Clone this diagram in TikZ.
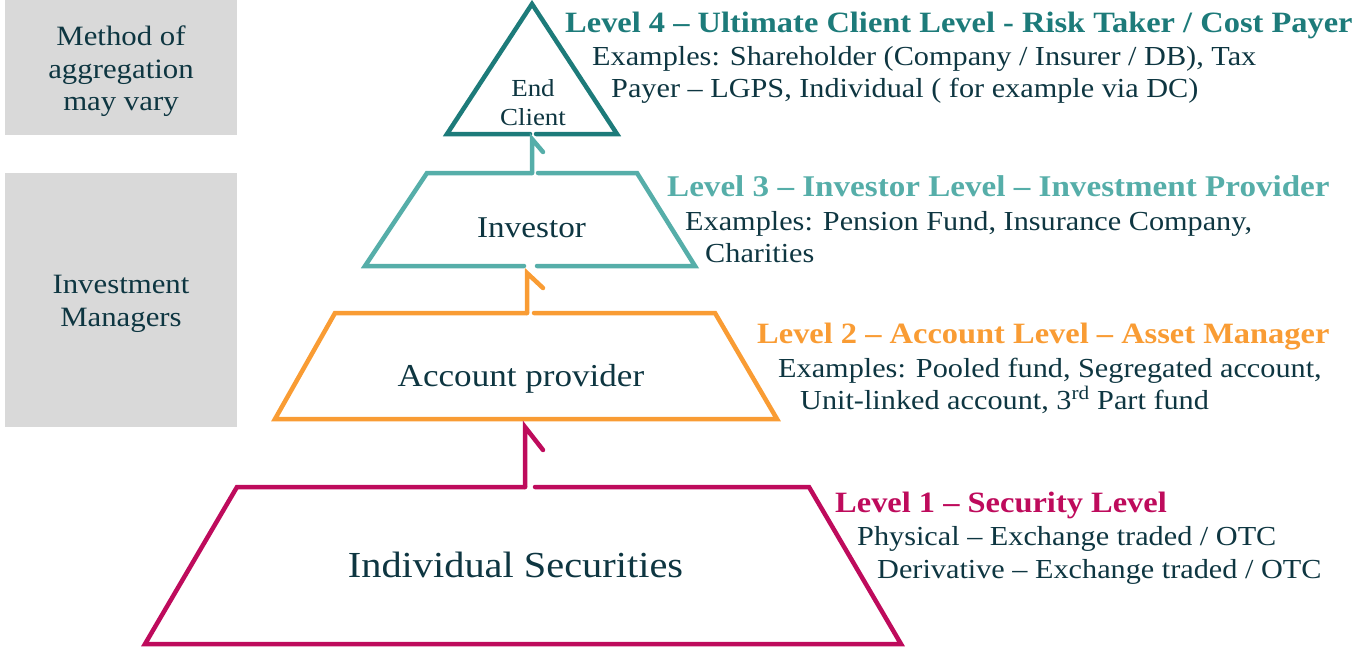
\documentclass[tikz,border=0pt]{standalone}
\usepackage{fontspec}
\setmainfont{Liberation Serif}[FakeStretch=1.1]
\definecolor{lvfour}{HTML}{1D7B7A}
\definecolor{lvthree}{HTML}{56AEA9}
\definecolor{lvtwo}{HTML}{F99C34}
\definecolor{lvone}{HTML}{BE0B5C}
\definecolor{ink}{HTML}{0E3641}
\definecolor{panel}{HTML}{D9D9D9}
\begin{document}
\begin{tikzpicture}[x=1pt,y=-1pt,
  outline/.style={line width=4.5pt, line cap=round, line join=miter},
  conn/.style={line width=4.5pt, line cap=round, line join=miter},
  body/.style={anchor=base west, inner sep=0pt, text=ink, font=\fontsize{27.5}{33}\selectfont},
  headline/.style={anchor=base west, inner sep=0pt, font=\fontsize{29.5}{35}\bfseries\selectfont},
  sidetext/.style={anchor=base, inner sep=0pt, text=ink, font=\fontsize{28}{33}\selectfont},
  label/.style={anchor=base, inner sep=0pt, text=ink}]
\useasboundingbox (0,0) rectangle (1360,653);

% side panels
\fill[panel] (5,0) rectangle (237,135);
\fill[panel] (5,173) rectangle (237,427);
\node[sidetext] (m1) at (121,45) {Method of};
\node[sidetext] (m2) at (121,78) {aggregation};
\node[sidetext] (m3) at (121,110) {may vary};
\node[sidetext] (im1) at (121,293) {Investment};
\node[sidetext] (im2) at (121,326) {Managers};

% connector end points
\coordinate (t4-tip) at (532,139);
\coordinate (t3-top) at (532,173);
\coordinate (t3-tip) at (527,273);
\coordinate (t2-top) at (527,313);
\coordinate (t2-tip) at (525,427);
\coordinate (t1-top) at (525,487);

% Level 4: triangle
\draw[outline, lvfour] (530,134) -- (447,134) -- (532,4) -- (617,134) -- (536,134);
\node[label, font=\fontsize{24.5}{29}\selectfont] (end) at (533,96) {End};
\node[label, font=\fontsize{24.5}{29}\selectfont] (client) at (533,125) {Client};

% Level 3: investor trapezoid
\draw[outline, lvthree] (538,173) -- (637,173) -- (695,266) -- (537,266);
\draw[outline, lvthree] (524,266) -- (365,266) -- (427,173) -- (t3-top);
\draw[conn, lvthree] (t3-top) -- (t4-tip) -- ++(11,13);
\node[label, font=\fontsize{30.2}{36}\selectfont] (inv) at (531.5,237) {Investor};

% Level 2: account provider trapezoid
\draw[outline, lvtwo] (534,313) -- (715,313) -- (777,419) -- (275,419) -- (335,313) -- (t2-top);
\draw[conn, lvtwo] (t2-top) -- (t3-tip) -- ++(16,15);
\node[label, font=\fontsize{31.9}{38}\selectfont] (acc) at (521,386) {Account provider};

% Level 1: individual securities trapezoid
\draw[outline, lvone] (535,487) -- (809,487) -- (901,644) -- (145,644) -- (237,487) -- (t1-top);
\draw[conn, lvone] (t1-top) -- (t2-tip) -- ++(18,23);
\node[label, font=\fontsize{36.7}{44}\selectfont] (sec) at (515.5,577) {Individual Securities};

% descriptions
\node[headline, text=lvfour] (h4) at (565,32) {Level 4 – Ultimate Client Level - Risk Taker / Cost Payer};
\node[body] (b4a) at (592,65) {Examples: Shareholder (Company / Insurer / DB), Tax};
\node[body] (b4b) at (611,97) {Payer – LGPS, Individual ( for example via DC)};

\node[headline, text=lvthree, font=\fontsize{30.1}{35}\bfseries\selectfont] (h3) at (667,196) {Level 3 – Investor Level – Investment Provider};
\node[body] (b3a) at (685,230) {Examples: Pension Fund, Insurance Company,};
\node[body] (b3b) at (705,262) {Charities};

\node[headline, text=lvtwo] (h2) at (757,343) {Level 2 – Account Level – Asset Manager};
\node[body] (b2a) at (778,377) {Examples: Pooled fund, Segregated account,};
\node[body] (b2b) at (800,409) {Unit-linked account, 3\textsuperscript{rd} Part fund};

\node[headline, text=lvone] (h1) at (835,512) {Level 1 – Security Level};
\node[body] (b1a) at (857,545) {Physical – Exchange traded / OTC};
\node[body] (b1b) at (877,578) {Derivative – Exchange traded / OTC};
\end{tikzpicture}
\end{document}
